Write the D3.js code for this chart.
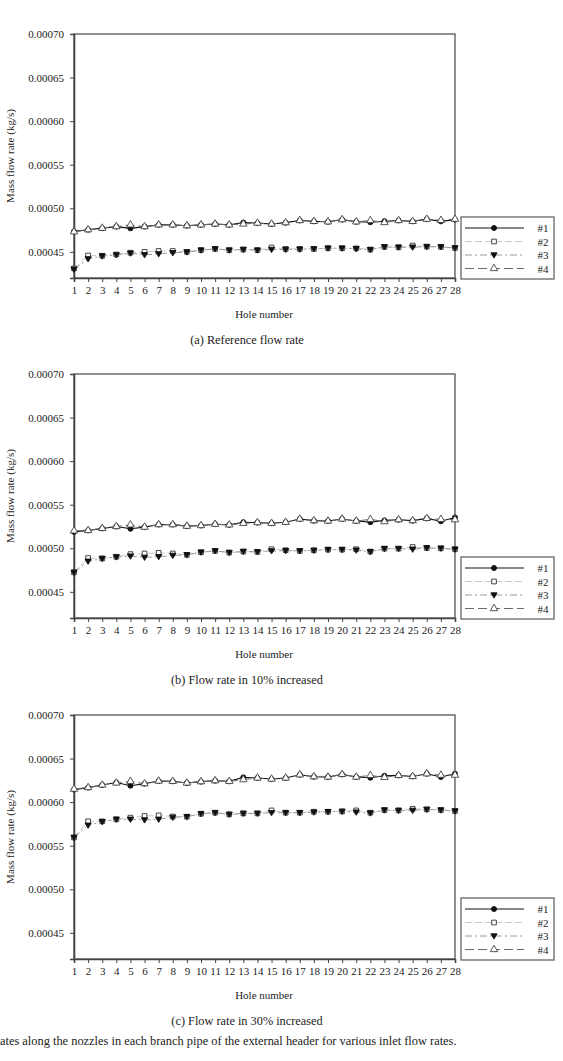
<!DOCTYPE html>
<meta charset="utf-8">
<style type="text/css">
    body{
        margin: 0;
        background: #fff;
    }
    svg{
        display: block;
    }
    text{
        font-family: "Liberation Serif", "DejaVu Serif", serif;
        fill: #222;
    }
</style>
<body>
<script src="https://cdn.jsdelivr.net/npm/d3@7"></script>
<script>

//hole numbers along the branch pipe
var holes = d3.range(1, 29);

//y axis ticks
var yTicks = [0.00045, 0.00050, 0.00055, 0.00060, 0.00065, 0.00070];

//legend names
var seriesNames = ["#1", "#2", "#3", "#4"];

//panel captions
var captions = ["(a) Reference flow rate", "(b) Flow rate in 10% increased", "(c) Flow rate in 30% increased"];
var figCaption = "ates along the nozzles in each branch pipe of the external header for various inlet flow rates.";

//(a) reference flow rate
var a1 = [0.0004735,0.0004754,0.0004772,0.000479,0.000477,0.000479,0.000481,0.000481,0.00048,0.000481,0.000482,0.000481,0.0004836,0.000483,0.000482,0.0004835,0.000486,0.000485,0.0004845,0.000487,0.0004845,0.000484,0.0004852,0.000486,0.000485,0.0004875,0.000485,0.000487];
var a2 = [0.000431,0.0004458,0.0004455,0.000447,0.000449,0.00045,0.000451,0.000451,0.00045,0.000452,0.0004534,0.000452,0.0004527,0.000452,0.000455,0.0004534,0.0004534,0.0004534,0.0004542,0.0004542,0.000454,0.0004527,0.0004557,0.0004553,0.0004572,0.000456,0.0004557,0.0004545];
var a3 = [0.00043,0.000442,0.0004452,0.0004465,0.0004485,0.0004466,0.0004477,0.0004489,0.0004498,0.000452,0.0004534,0.000452,0.0004527,0.000452,0.0004527,0.0004527,0.000453,0.0004534,0.0004542,0.0004542,0.0004535,0.0004525,0.0004557,0.0004553,0.0004553,0.000456,0.0004557,0.0004545];
var a4 = [0.000473,0.0004754,0.0004772,0.000479,0.000481,0.000479,0.000481,0.000481,0.00048,0.000481,0.000482,0.000481,0.000482,0.000483,0.000482,0.0004835,0.000486,0.000485,0.0004845,0.000487,0.0004845,0.000486,0.0004837,0.000486,0.000485,0.0004875,0.0004862,0.0004875];

//(b) 10% increased
var b1 = [0.0005188,0.0005205,0.0005228,0.000525,0.0005224,0.0005243,0.0005272,0.0005272,0.0005254,0.0005261,0.0005276,0.0005269,0.0005299,0.0005295,0.0005287,0.0005299,0.0005336,0.0005317,0.0005313,0.0005336,0.0005313,0.00053,0.000532,0.0005328,0.0005317,0.0005343,0.000531,0.0005354];
var b2 = [0.0004724,0.0004888,0.0004884,0.0004903,0.0004933,0.000494,0.0004948,0.000494,0.0004925,0.0004955,0.000497,0.0004951,0.0004963,0.0004959,0.0004989,0.0004978,0.000497,0.0004978,0.0004985,0.0004985,0.0004989,0.0004963,0.0004996,0.0004996,0.0005015,0.0005004,0.0005,0.0004989];
var b3 = [0.0004724,0.0004851,0.0004882,0.00049,0.000491,0.0004896,0.0004903,0.0004918,0.0004925,0.0004955,0.000497,0.0004951,0.0004963,0.0004959,0.000497,0.0004972,0.000497,0.0004975,0.0004985,0.0004985,0.0004978,0.000496,0.0004996,0.0004996,0.0004989,0.0005004,0.0005,0.0004989];
var b4 = [0.00052,0.0005205,0.0005228,0.000525,0.0005269,0.0005243,0.0005272,0.0005272,0.0005254,0.0005261,0.0005276,0.0005269,0.0005287,0.0005295,0.0005287,0.0005299,0.0005336,0.0005317,0.0005313,0.0005336,0.0005313,0.0005332,0.0005306,0.0005328,0.0005317,0.0005343,0.0005332,0.0005328];

//(c) 30% increased
var c1 = [0.0006144,0.0006167,0.0006197,0.0006225,0.0006189,0.0006212,0.0006242,0.0006239,0.000622,0.0006235,0.0006246,0.0006239,0.0006284,0.0006277,0.0006265,0.0006277,0.0006314,0.0006292,0.0006288,0.0006318,0.0006288,0.000628,0.0006303,0.0006307,0.0006295,0.0006326,0.0006288,0.0006326];
var c2 = [0.0005595,0.000578,0.000578,0.0005803,0.0005822,0.0005841,0.0005848,0.0005835,0.0005833,0.0005867,0.0005879,0.000586,0.0005871,0.0005871,0.0005905,0.0005879,0.0005879,0.000589,0.000589,0.0005894,0.0005905,0.0005879,0.0005909,0.0005905,0.0005924,0.0005917,0.0005909,0.0005898];
var c3 = [0.0005595,0.0005735,0.0005775,0.0005803,0.0005803,0.0005795,0.0005803,0.0005825,0.0005833,0.0005867,0.0005879,0.000586,0.0005871,0.0005871,0.0005879,0.0005879,0.0005879,0.0005885,0.000589,0.0005894,0.0005885,0.0005875,0.0005909,0.0005905,0.0005905,0.0005917,0.0005909,0.0005898];
var c4 = [0.000615,0.0006167,0.0006197,0.000622,0.0006239,0.0006212,0.0006242,0.0006239,0.000622,0.0006235,0.0006246,0.0006239,0.0006258,0.0006277,0.0006265,0.0006277,0.0006314,0.0006292,0.0006288,0.0006318,0.0006288,0.0006307,0.0006284,0.0006307,0.0006295,0.0006326,0.000631,0.000631];

var panels = [
    {top: 34,  series: [a1, a2, a3, a4], caption: captions[0]},
    {top: 374, series: [b1, b2, b3, b4], caption: captions[1]},
    {top: 715, series: [c1, c2, c3, c4], caption: captions[2]}
];

//line and marker styles for #1..#4
var styles = [
    {stroke: "#111", dash: null,         width: 1.1, marker: "circle",  fill: "#111", mstroke: "#111"},
    {stroke: "#c8c8c8", dash: "7,3",     width: 1,   marker: "square",  fill: "#fff", mstroke: "#333"},
    {stroke: "#9a9a9a", dash: "7,3,2,3", width: 1,   marker: "triDown", fill: "#111", mstroke: "#111"},
    {stroke: "#6a6a6a", dash: "9,4",     width: 1,   marker: "triUp",   fill: "#fff", mstroke: "#444"}
];

var W = 563, H = 1061;
var left = 74, right = 455, plotH = 244;

var svg = d3.select("body").append("svg")
    .attr("width", W)
    .attr("height", H);

var x = d3.scaleLinear().domain([1, 28]).range([left, right]);

function markerPath(type){
    if (type == "circle") return d3.symbol().type(d3.symbolCircle).size(20)();
    if (type == "square") return d3.symbol().type(d3.symbolSquare).size(22)();
    if (type == "triUp") return d3.symbol().type(d3.symbolTriangle).size(24)();
    return "M-3.1,-2.2L3.1,-2.2L0,3.1Z";
}

function drawMarker(g, s, px, py){
    g.append("path")
        .attr("d", markerPath(s.marker))
        .attr("transform", "translate(" + px + "," + py + ")")
        .attr("fill", s.fill)
        .attr("stroke", s.mstroke)
        .attr("stroke-width", 0.9);
}

panels.forEach(function(p){

    var y = d3.scaleLinear().domain([0.00042, 0.00070]).range([p.top + plotH, p.top]);
    var bottom = p.top + plotH;
    var g = svg.append("g");

    //frame
    g.append("rect")
        .attr("x", left).attr("y", p.top)
        .attr("width", right - left).attr("height", plotH)
        .attr("fill", "none").attr("stroke", "#555").attr("stroke-width", 1.3);

    //y axis
    var yAxis = g.append("g")
        .attr("transform", "translate(" + left + ",0)")
        .call(d3.axisLeft(y).tickValues(yTicks).tickFormat(d3.format(".5f")).tickSize(4).tickPadding(6));
    yAxis.select(".domain").attr("stroke", "#444").attr("stroke-width", 1.6);
    yAxis.selectAll(".tick line").attr("stroke", "#444");
    yAxis.selectAll("text").style("font-size", "11px").style("font-family", "Liberation Serif").attr("fill", "#222");

    //x axis
    var xAxis = g.append("g")
        .attr("transform", "translate(0," + bottom + ")")
        .call(d3.axisBottom(x).tickValues(holes).tickFormat(d3.format("d")).tickSize(4).tickPadding(4));
    xAxis.select(".domain").attr("stroke", "#444").attr("stroke-width", 1.6);
    xAxis.selectAll(".tick line").attr("stroke", "#444");
    xAxis.selectAll("text").style("font-size", "11px").style("font-family", "Liberation Serif").attr("fill", "#222");

    //axis titles
    g.append("text")
        .attr("x", 264).attr("y", bottom + 40)
        .attr("text-anchor", "middle")
        .style("font-size", "11px")
        .text("Hole number");

    g.append("text")
        .attr("transform", "translate(14," + (p.top + plotH / 2) + ") rotate(-90)")
        .attr("text-anchor", "middle")
        .style("font-size", "11px")
        .text("Mass flow rate (kg/s)");

    //caption
    g.append("text")
        .attr("x", 247).attr("y", bottom + 66)
        .attr("text-anchor", "middle")
        .style("font-size", "12.3px")
        .text(p.caption);

    //lines then markers
    p.series.forEach(function(vals, i){
        var s = styles[i];
        var line = d3.line()
            .x(function(d, k){ return x(holes[k]); })
            .y(function(d){ return y(d); });
        g.append("path")
            .datum(vals)
            .attr("d", line)
            .attr("fill", "none")
            .attr("stroke", s.stroke)
            .attr("stroke-width", s.width)
            .attr("stroke-dasharray", s.dash);
        vals.forEach(function(v, k){
            drawMarker(g, s, x(holes[k]), y(v));
        });
    });

    //legend
    var lg = g.append("g").attr("transform", "translate(461," + (bottom - 61) + ")");
    lg.append("rect")
        .attr("width", 93).attr("height", 62)
        .attr("fill", "#fff").attr("stroke", "#666").attr("stroke-width", 1.3);
    seriesNames.forEach(function(name, i){
        var s = styles[i];
        var ly = 11 + i * 13.5;
        lg.append("line")
            .attr("x1", 4).attr("x2", 63).attr("y1", ly).attr("y2", ly)
            .attr("stroke", s.stroke).attr("stroke-width", s.width)
            .attr("stroke-dasharray", s.dash);
        drawMarker(lg, s, 33, ly);
        lg.append("text")
            .attr("x", 82).attr("y", ly + 4)
            .attr("text-anchor", "middle")
            .style("font-size", "11px")
            .attr("fill", "#555")
            .text(name);
    });
});

//figure caption (cut at the left edge as in the source)
svg.append("text")
    .attr("x", 0).attr("y", 1045)
    .style("font-size", "12.4px")
    .text(figCaption);

</script>
</body>
